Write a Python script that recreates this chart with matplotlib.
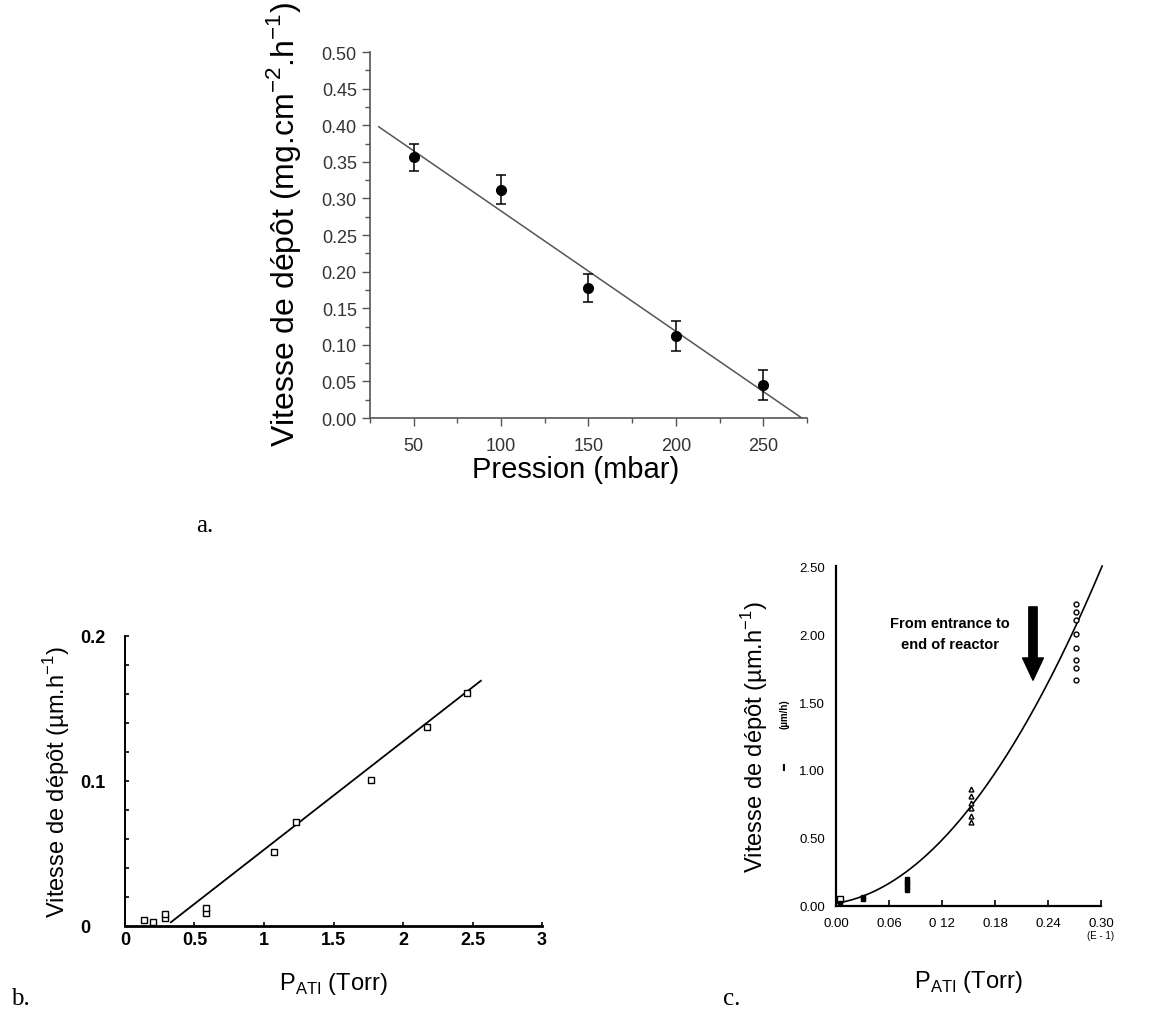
import matplotlib

matplotlib.use("Agg")
import matplotlib.pyplot as plt
import numpy as np
from matplotlib.ticker import MultipleLocator, FixedLocator

plt.rcParams["font.family"] = ["Liberation Sans", "DejaVu Sans"]
plt.rcParams["mathtext.fontset"] = "custom"
plt.rcParams["mathtext.rm"] = "Liberation Sans"

# --- panel a: deposition rate vs pressure
pression = [50, 100, 150, 200, 250]
vitesse_a = [0.356, 0.312, 0.178, 0.112, 0.045]
err_a = [0.019, 0.020, 0.019, 0.020, 0.020]

# --- panel b: deposition rate vs P_ATI (open squares)
p_ati_b = [0.14, 0.20, 0.29, 0.29, 0.58, 0.58, 1.07, 1.23, 1.77, 2.17, 2.46]
vitesse_b = [0.004, 0.0025, 0.0055, 0.0085, 0.009, 0.0125, 0.051, 0.072, 0.101, 0.137, 0.161]
fit_b = [0.0747, -0.0221]  # slope, intercept
fit_b_range = [0.33, 2.56]

# --- panel c: deposition rate vs P_ATI along the reactor
c_open_sq_x = [0.004]
c_open_sq_y = [0.055]
c_fill_x = [0.004, 0.031, 0.031, 0.080, 0.080, 0.080, 0.080, 0.080]
c_fill_y = [0.02, 0.065, 0.05, 0.20, 0.18, 0.16, 0.14, 0.12]
c_tri_x = [0.153, 0.153, 0.153, 0.153, 0.153, 0.153]
c_tri_y = [0.86, 0.81, 0.76, 0.72, 0.66, 0.62]
c_circ_x = [0.272, 0.272, 0.272, 0.272, 0.272, 0.272, 0.272, 0.272]
c_circ_y = [2.22, 2.16, 2.10, 2.00, 1.90, 1.81, 1.75, 1.66]
fit_c = [24.0, 1.0, 0.02]  # quadratic coefficients

fig = plt.figure(figsize=(11.53, 10.20), dpi=100)

# ---------------- panel a
ax = fig.add_axes([0.3209, 0.5892, 0.379, 0.3588])
slope, inter = np.polyfit(pression, vitesse_a, 1)
xl = np.array([30, -inter / slope])
ax.plot(xl, slope * xl + inter, color="#555555", lw=1.1)
ax.errorbar(pression, vitesse_a, yerr=err_a, fmt="o", color="black", ms=7,
            capsize=3.5, elinewidth=1.1, capthick=1.1)
ax.set_xlim(25, 275)
ax.set_ylim(0, 0.5)
ax.xaxis.set_major_locator(FixedLocator([50, 100, 150, 200, 250]))
ax.xaxis.set_minor_locator(FixedLocator([25, 75, 125, 175, 225, 275]))
ax.yaxis.set_major_locator(MultipleLocator(0.05))
ax.yaxis.set_minor_locator(MultipleLocator(0.025))
ax.yaxis.set_major_formatter(plt.FormatStrFormatter("%.2f"))
for s in ["top", "right"]:
    ax.spines[s].set_visible(False)
for s in ["left", "bottom"]:
    ax.spines[s].set_color("#555555")
    ax.spines[s].set_linewidth(1.2)
ax.tick_params(which="major", length=6, width=1, colors="#555555", labelcolor="#333333",
               labelsize=13)
ax.tick_params(which="minor", length=3.5, width=1, colors="#555555")
ax.tick_params(axis="x", pad=8)
ax.set_ylabel("Vitesse de dépôt (mg.cm$^{\\mathregular{-2}}$.h$^{\\mathregular{-1}}$)",
              fontsize=23)
ax.yaxis.set_label_coords(-0.153, 0.53)
ax.set_xlabel("Pression (mbar)", fontsize=21)
ax.xaxis.set_label_coords(0.47, -0.102)

# ---------------- panel b
bx = fig.add_axes([0.1084, 0.0912, 0.3617, 0.2843])
xf = np.array(fit_b_range)
bx.plot(xf, fit_b[0] * xf + fit_b[1], color="black", lw=1.3)
bx.plot(p_ati_b, vitesse_b, "s", mfc="white", mec="black", ms=4, mew=1.0)
bx.set_xlim(0, 3)
bx.set_ylim(0, 0.2)
bx.set_xticks([0, 0.5, 1, 1.5, 2, 2.5, 3])
bx.set_xticklabels(["0", "0.5", "1", "1.5", "2", "2.5", "3"])
bx.set_yticks([0, 0.1, 0.2])
bx.set_yticklabels(["0", "0.1", "0.2"])
bx.yaxis.set_minor_locator(MultipleLocator(0.02))
for s in ["top", "right"]:
    bx.spines[s].set_visible(False)
bx.spines["bottom"].set_linewidth(2.0)
bx.spines["left"].set_linewidth(1.4)
bx.tick_params(which="both", direction="in", length=3, width=1.2)
bx.tick_params(labelsize=13)
for lab in bx.get_xticklabels() + bx.get_yticklabels():
    lab.set_fontweight("bold")
bx.tick_params(axis="y", pad=32)
for lab in bx.get_yticklabels():
    lab.set_horizontalalignment("left")
bx.set_ylabel("Vitesse de dépôt (µm.h$^{\\mathregular{-1}}$)", fontsize=17)
bx.yaxis.set_label_coords(-0.127, 0.5)
bx.set_xlabel("P$_{\\mathregular{ATI}}$ (Torr)", fontsize=17, labelpad=16)

# ---------------- panel c
cx = fig.add_axes([0.7251, 0.1108, 0.2298, 0.3333])
a2, a1, a0 = fit_c
x_end = (-a1 + np.sqrt(a1 ** 2 + 4 * a2 * (2.5 - a0))) / (2 * a2)
xc = np.linspace(0, x_end, 200)
cx.plot(xc, a2 * xc ** 2 + a1 * xc + a0, color="black", lw=1.2, clip_on=False)
cx.plot(c_open_sq_x, c_open_sq_y, "s", mfc="white", mec="black", ms=4, mew=1)
cx.plot(c_fill_x, c_fill_y, "s", color="black", ms=3.5)
cx.plot(c_tri_x, c_tri_y, "^", mfc="white", mec="black", ms=3.5, mew=1)
cx.plot(c_circ_x, c_circ_y, "o", mfc="white", mec="black", ms=3.5, mew=1)
cx.set_xlim(0, 0.30)
cx.set_ylim(0, 2.5)
cx.set_xticks([0, 0.06, 0.12, 0.18, 0.24, 0.30])
cx.set_xticklabels(["0.00", "0.06", "0 12", "0.18", "0.24", "0.30"])
cx.set_yticks([0, 0.5, 1.0, 1.5, 2.0, 2.5])
cx.set_yticklabels(["0.00", "0.50", "1.00", "1.50", "2.00", "2.50"])
for s in ["top", "right"]:
    cx.spines[s].set_visible(False)
cx.spines["bottom"].set_linewidth(1.6)
cx.spines["left"].set_linewidth(1.6)
cx.tick_params(axis="x", direction="in", length=4, width=1.2, labelsize=9.5, pad=8)
cx.tick_params(axis="y", length=0, labelsize=9.5, pad=8)
cx.text(0.129, 2.08, "From entrance to", ha="center", va="center",
        fontsize=10.5, fontweight="bold")
cx.text(0.129, 1.93, "end of reactor", ha="center", va="center",
        fontsize=10.5, fontweight="bold")
cx.annotate("", xy=(0.223, 1.64), xytext=(0.223, 2.22),
            arrowprops=dict(arrowstyle="simple,head_width=1.5,head_length=1.6,tail_width=0.6",
                            color="black"))
cx.text(1.0, -0.085, "(E - 1)", transform=cx.transAxes, ha="center", va="center", fontsize=7)
cx.set_ylabel("Vitesse de dépôt (µm.h$^{\\mathregular{-1}}$)", fontsize=17)
cx.yaxis.set_label_coords(-0.249, 0.5)
cx.set_xlabel("P$_{\\mathregular{ATI}}$ (Torr)", fontsize=17, labelpad=28)

# leftovers of the scanned original
fig.text(0.680, 0.30, "(µm/h)", rotation=90, fontsize=7, fontweight="bold",
         ha="center", va="center")
fig.text(0.680, 0.249, "▬", rotation=90, fontsize=5, ha="center", va="center")

# sub-figure letters
fig.text(0.170, 0.478, "a.", family="Liberation Serif", fontsize=18)
fig.text(0.010, 0.015, "b.", family="Liberation Serif", fontsize=18)
fig.text(0.627, 0.015, "c.", family="Liberation Serif", fontsize=18)

fig.savefig("out.png", dpi=100)
